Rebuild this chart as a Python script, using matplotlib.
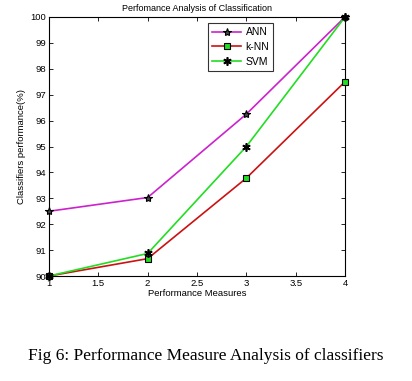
import matplotlib
matplotlib.use("Agg")
import matplotlib.pyplot as plt

x = [1, 2, 3, 4]
ann = [92.5, 93.03, 96.25, 100.0]
knn = [90.0, 90.67, 93.78, 97.5]
svm = [90.0, 90.87, 95.0, 100.0]
xticks = [1, 1.5, 2, 2.5, 3, 3.5, 4]
xticklabels = ["1", "1.5", "2", "2.5", "3", "3.5", "4"]
yticks = list(range(90, 101))

plt.rcParams['font.family'] = ['Liberation Sans', 'DejaVu Sans']
fig = plt.figure(figsize=(4.12, 3.81), dpi=100)
ax = fig.add_axes([49/412, 1 - 276/381, 296/412, 259/381])

ax.plot(x, ann, color='#cc22cc', lw=1.2, marker='*', ms=6, mfc='#444444', mec='black', mew=0.8, label='ANN', clip_on=False, zorder=3)
ax.plot(x, knn, color='#cc1111', lw=1.2, marker='s', ms=5, mfc='#22dd22', mec='black', mew=0.8, label='k-NN', clip_on=False, zorder=3)
ax.plot(x, svm, color='#22dd22', lw=1.2, marker=(6, 2, 0), ms=6, mfc='black', mec='black', mew=1.2, label='SVM', clip_on=False, zorder=3)

ax.set_xlim(1, 4)
ax.set_ylim(90, 100)
ax.set_xticks(xticks)
ax.set_xticklabels(xticklabels)
ax.set_yticks(yticks)
ax.tick_params(direction='in', top=True, right=True, labelsize=6.8, length=3, width=0.6, pad=2)
for s in ax.spines.values():
    s.set_linewidth(0.8)
ax.set_title("Perfomance Analysis of Classification", fontsize=6.5, pad=4)
ax.set_xlabel("Performance Measures", fontsize=6.8, labelpad=1)
ax.set_ylabel("Classifiers performance(%)", fontsize=6.8, labelpad=3)

leg = ax.legend(loc='upper left', bbox_to_anchor=(159/296, 1 - 6/259), fontsize=7.5,
                frameon=True, fancybox=False, edgecolor='black', handlelength=2.8,
                borderpad=0.4, labelspacing=0.45, handletextpad=0.4, borderaxespad=0)
leg.get_frame().set_linewidth(0.8)

fig.text(206/412, 1 - 356/381, "Fig 6: Performance Measure Analysis of classifiers",
         family='Liberation Serif', fontsize=12.5, ha='center', va='center')

fig.savefig("out.png", dpi=100)
